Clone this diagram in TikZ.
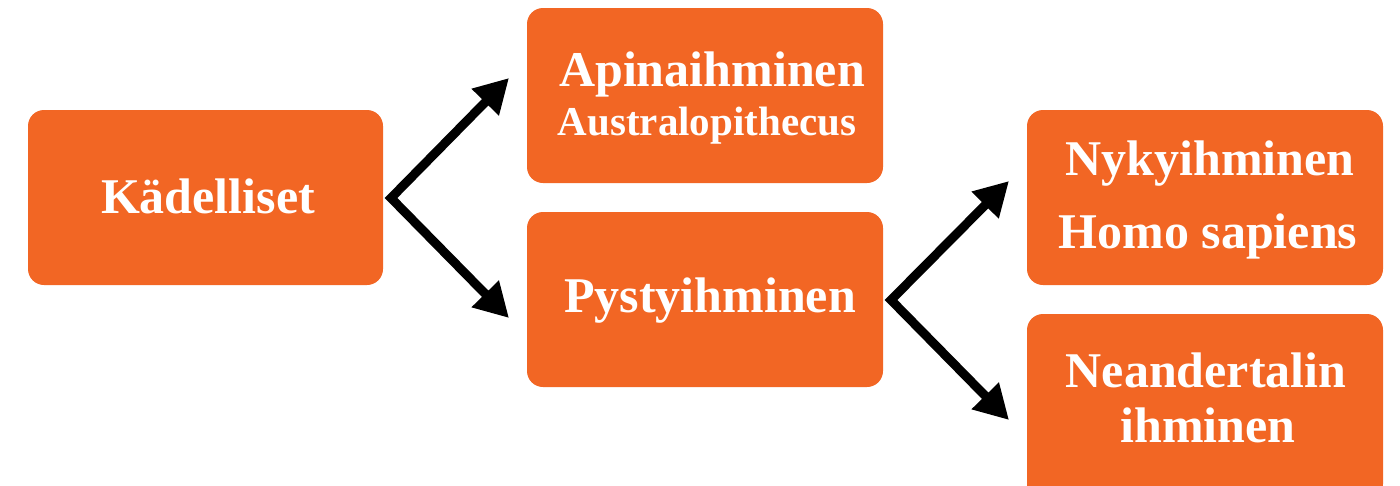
\documentclass[tikz,border=0pt]{standalone}
\usepackage{fontspec}
\setmainfont{Liberation Serif}
\usetikzlibrary{arrows.meta}
\definecolor{boxorange}{RGB}{242,102,36}
\tikzset{
  box/.style={fill=boxorange, rounded corners=16pt, inner sep=0pt, draw=none},
  lbl/.style={text=white, font=\bfseries\fontsize{50}{54}\selectfont, anchor=base, inner sep=0pt},
  sublbl/.style={text=white, font=\bfseries\fontsize{41}{44}\selectfont, anchor=base, inner sep=0pt},
  conn/.style={line width=9pt, {Triangle[length=34pt,width=36pt]}-{Triangle[length=34pt,width=36pt]}, line join=miter},
}
\begin{document}
\begin{tikzpicture}[x=1pt,y=-1pt]
\useasboundingbox (0,0) rectangle (1400,485);
% boxes
\path[box] (28,110) rectangle (383,285); \node[inner sep=0] (k) at (205.5,197.5) {};
\path[box] (527,8) rectangle (883,183); \node[inner sep=0] (a) at (705,95.5) {};
\path[box] (527,212) rectangle (883,387); \node[inner sep=0] (p) at (705,299.5) {};
\path[box] (1027,110) rectangle (1383,285); \node[inner sep=0] (n) at (1205,197.5) {};
\path[box] (1027,314) rectangle (1383,500); \node[inner sep=0] (ne) at (1205,400) {};
% labels
\node[lbl] (kt) at (208,213) {Kädelliset};
\node[lbl] (at) at (712,86) {Apinaihminen};
\node[sublbl] (at2) at (707,135) {Australopithecus};
\node[lbl] (pt) at (710,312) {Pystyihminen};
\node[lbl] (nt) at (1210,175) {Nykyihminen};
\node[lbl] (nt2) at (1208,248) {Homo sapiens};
\node[lbl] (net) at (1206,387) {Neandertalin};
\node[lbl] (net2) at (1208,442) {ihminen};
% connectors
\coordinate (v1) at (391,198);
\coordinate (t1) at (509,78);
\coordinate (t2) at (509,318);
\coordinate (v2) at (891,300);
\coordinate (t3) at (1009,181);
\coordinate (t4) at (1009,420);
\draw[conn] (t1) -- (v1) -- (t2);
\draw[conn] (t3) -- (v2) -- (t4);
\end{tikzpicture}
\end{document}
